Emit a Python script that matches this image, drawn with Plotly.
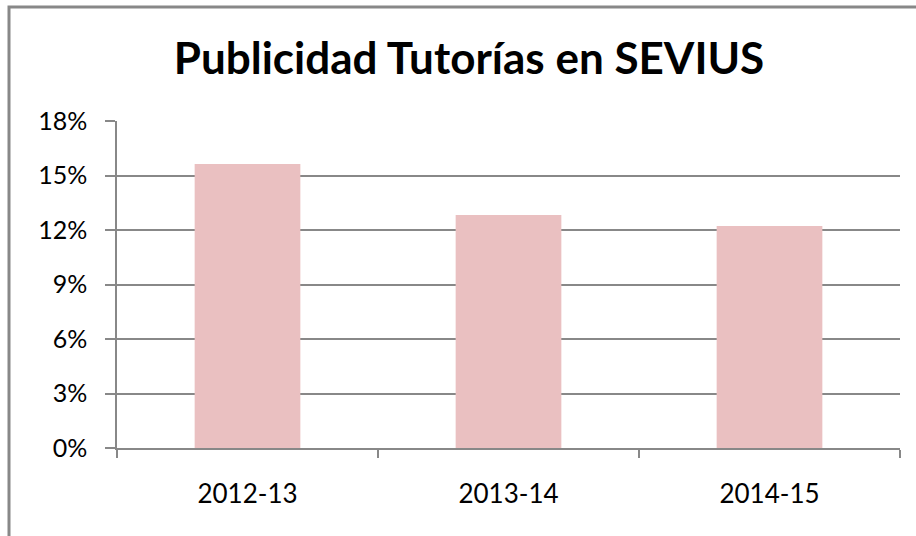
import plotly.graph_objects as go

categories = ["2012-13", "2013-14", "2014-15"]
values = [0.1563, 0.1282, 0.1222]
y_ticks = [0, 0.03, 0.06, 0.09, 0.12, 0.15, 0.18]
y_tick_labels = ["0%", "3%", "6%", "9%", "12%", "15%", "18%"]
title_text = "Publicidad Tutorías en SEVIUS"

W, H = 916, 536
L, R, T, B = 117, 16, 121, 88
pw, ph = W - L - R, H - T - B


def px_x(x):
    return (x - L) / pw


def px_y(y):
    return (H - B - y) / ph


grey = "#888888"

fig = go.Figure()
fig.add_trace(go.Bar(
    x=categories, y=values,
    marker=dict(color="#EAC0C1", line=dict(width=0)),
    width=0.405,
))

fig.add_shape(type="rect", xref="paper", yref="paper",
              x0=px_x(9), x1=px_x(930), y0=px_y(550), y1=px_y(7),
              line=dict(color=grey, width=3), fillcolor="rgba(0,0,0,0)", layer="below")

fig.update_layout(
    width=W, height=H,
    margin=dict(l=L, r=R, t=T, b=B),
    paper_bgcolor="white", plot_bgcolor="white",
    showlegend=False,
    font=dict(family="Lato", color="#000000"),
    title=dict(text="<b>" + title_text + "</b>", x=469 / W, xanchor="center",
               y=1 - 59 / H, yanchor="middle", yref="container", xref="container",
               font=dict(family="Lato", size=44, color="#000000")),
)
fig.update_xaxes(
    type="category", range=[-0.5, 2.5],
    tickson="boundaries", ticks="outside", ticklen=8, tickcolor=grey, tickwidth=1.5,
    showline=True, linecolor=grey, linewidth=1.5, showgrid=False,
    tickfont=dict(size=26, color="#000000"), ticklabelstandoff=22,
)
fig.update_yaxes(
    range=[0, 0.18], tickvals=y_ticks, ticktext=y_tick_labels,
    ticks="outside", ticklen=10, tickcolor=grey, tickwidth=1.5,
    showline=True, linecolor=grey, linewidth=1.5,
    showgrid=True, gridcolor=grey, gridwidth=1.5,
    tickfont=dict(size=25, color="#000000"), zeroline=False, ticklabelstandoff=13,
)

fig.write_html("out.html", config={"displayModeBar": False},
               post_script="document.body.style.margin='0';")
